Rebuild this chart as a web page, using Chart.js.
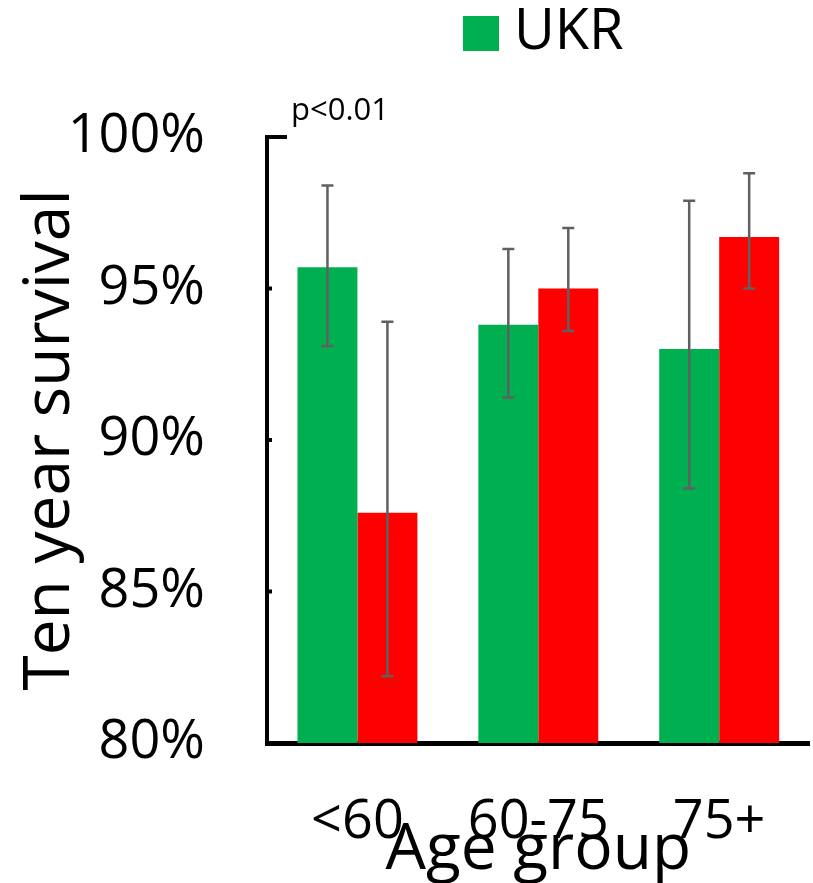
<!DOCTYPE html>
<html>
<head>
<meta charset="utf-8">
<script src="https://cdn.jsdelivr.net/npm/chart.js@4/dist/chart.umd.min.js"></script>
<style>
  html, body { margin: 0; padding: 0; background: #fff; }
  #wrap { width: 813px; height: 883px; }
</style>
</head>
<body>
<div id="wrap"><canvas id="survival"></canvas></div>
<script>
// values
const ageGroups = ["<60", "60-75", "75+"];
const ukrValues = [95.7, 93.8, 93.0];
const ukrLow = [93.1, 91.4, 88.4];
const ukrHigh = [98.4, 96.3, 97.9];
const otherValues = [87.6, 95.0, 96.7];
const otherLow = [82.2, 93.6, 95.0];
const otherHigh = [93.9, 97.0, 98.8];
const yTicks = [80, 85, 90, 95, 100];

const FONT = "'Open Sans', 'Noto Sans', sans-serif";

// error bars drawn through the y scale
const errorBars = {
  id: "errorBars",
  afterDatasetsDraw(chart) {
    const ctx = chart.ctx;
    const y = chart.scales.y;
    chart.data.datasets.forEach((ds, di) => {
      const meta = chart.getDatasetMeta(di);
      meta.data.forEach((bar, i) => {
        const top = y.getPixelForValue(ds.errHigh[i]);
        const bot = y.getPixelForValue(ds.errLow[i]);
        ctx.save();
        ctx.strokeStyle = "#606060";
        ctx.lineWidth = 2.5;
        ctx.beginPath();
        ctx.moveTo(bar.x, top); ctx.lineTo(bar.x, bot);
        ctx.moveTo(bar.x - 6, top); ctx.lineTo(bar.x + 6, top);
        ctx.moveTo(bar.x - 6, bot); ctx.lineTo(bar.x + 6, bot);
        ctx.stroke();
        ctx.restore();
      });
    });
  }
};

// inward tick marks, p-value note and the single legend entry
const extras = {
  id: "extras",
  afterDraw(chart) {
    const ctx = chart.ctx;
    const y = chart.scales.y;
    const area = chart.chartArea;
    ctx.save();
    ctx.strokeStyle = "#000";
    ctx.lineWidth = 4;
    yTicks.forEach(v => {
      if (v === 80) return;
      const py = y.getPixelForValue(v);
      const len = v === 100 ? 20 : 5;
      ctx.beginPath();
      ctx.moveTo(area.left, py);
      ctx.lineTo(area.left + len, py);
      ctx.stroke();
    });

    ctx.fillStyle = "#000";
    ctx.font = "31px " + FONT;
    ctx.textBaseline = "alphabetic";
    ctx.textAlign = "left";
    ctx.fillText("p<0.01", area.left + 24, 120);

    const ds = chart.data.datasets[0];
    ctx.fillStyle = ds.backgroundColor;
    ctx.fillRect(463, 16, 36, 35);
    ctx.fillStyle = "#000";
    ctx.font = "56px " + FONT;
    ctx.textBaseline = "middle";
    ctx.fillText(ds.label, 514, 33);
    ctx.restore();
  }
};

new Chart(document.getElementById("survival"), {
  type: "bar",
  data: {
    labels: ageGroups,
    datasets: [
      {
        label: "UKR",
        data: ukrValues,
        errLow: ukrLow,
        errHigh: ukrHigh,
        backgroundColor: "#00b050"
      },
      {
        label: "",
        data: otherValues,
        errLow: otherLow,
        errHigh: otherHigh,
        backgroundColor: "#ff0000"
      }
    ]
  },
  options: {
    responsive: true,
    maintainAspectRatio: false,
    animation: false,
    layout: { padding: { top: 137, right: 3, left: 0, bottom: 0 } },
    datasets: {
      bar: { categoryPercentage: 0.663, barPercentage: 1.0 }
    },
    plugins: {
      legend: { display: false },
      tooltip: { enabled: false }
    },
    scales: {
      x: {
        grid: { display: false, drawTicks: false },
        border: { display: true, color: "#000", width: 5 },
        ticks: {
          color: "#000",
          padding: 47,
          font: { family: FONT, size: 54 }
        },
        title: {
          display: true,
          text: "Age group",
          color: "#000",
          padding: 0,
          font: { family: FONT, size: 64, lineHeight: 1 }
        },
        afterFit(scale) { scale.height = 140; }
      },
      y: {
        min: 80,
        max: 100,
        afterBuildTicks(scale) { scale.ticks = yTicks.map(v => ({ value: v })); },
        grid: { display: true, drawOnChartArea: false, drawTicks: false },
        border: { display: true, color: "#000", width: 4 },
        ticks: {
          color: "#000",
          padding: 62,
          font: { family: FONT, size: 54 }
          ,
          callback: v => v + "%"
        },
        title: {
          display: true,
          text: "Ten year survival",
          color: "#000",
          padding: { top: 19, bottom: 0 },
          font: { family: FONT, size: 64, lineHeight: 1 }
        },
        afterFit(scale) { scale.width = 267; }
      }
    }
  },
  plugins: [errorBars, extras]
});
</script>
</body>
</html>
